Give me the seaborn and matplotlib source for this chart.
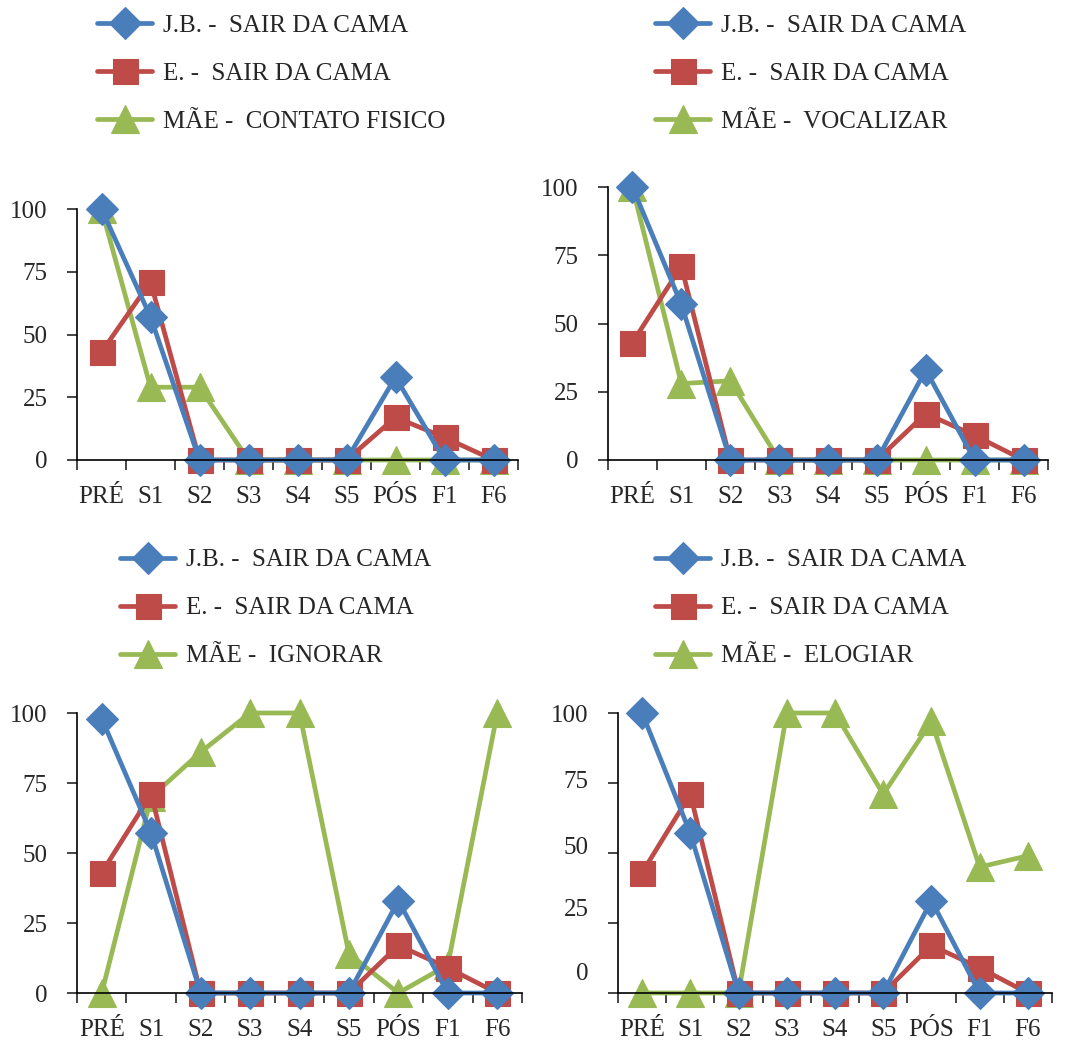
import seaborn as sns
import pandas as pd
import matplotlib.pyplot as plt
from matplotlib.transforms import ScaledTranslation

# dados
sessoes = ["PRÉ", "S1", "S2", "S3", "S4", "S5", "PÓS", "F1", "F6"]
jb_cama = [100, 57, 0, 0, 0, 0, 33, 0, 0]
jb_cama_p3 = [98, 57, 0, 0, 0, 0, 33, 0, 0]
e_cama = [43, 71, 0, 0, 0, 0, 17, 9, 0]
mae_contato = [100, 29, 29, 0, 0, 0, 0, 0, 0]
mae_vocalizar = [100, 28, 29, 0, 0, 0, 0, 0, 0]
mae_ignorar = [0, 70, 86, 100, 100, 14, 0, 10, 100]
mae_elogiar = [0, 0, 0, 100, 100, 71, 97, 45, 49]
yticks = [0, 25, 50, 75, 100]

nome_jb = "J.B. -  SAIR DA CAMA"
nome_e = "E. -  SAIR DA CAMA"
nomes_mae = ["MÃE -  CONTATO FISICO", "MÃE -  VOCALIZAR", "MÃE -  IGNORAR", "MÃE -  ELOGIAR"]

azul, vermelho, verde = "#4A7EBB", "#BE4B48", "#98B954"

sns.set_style("ticks")
plt.rcParams["font.family"] = ["Liberation Serif", "DejaVu Serif"]
plt.rcParams["font.size"] = 18

W, H = 1070, 1041
fig = plt.figure(figsize=(W / 100, H / 100), dpi=100)

# (esq, dir, topo, base) em pixels; legenda (x, y)
paineis = [
    ((77, 518, 209, 460), (97, 14), jb_cama, mae_contato, nomes_mae[0]),
    ((608, 1048, 187, 460), (655, 14), jb_cama, mae_vocalizar, nomes_mae[1]),
    ((77, 522, 713, 993), (120, 549), jb_cama_p3, mae_ignorar, nomes_mae[2]),
    ((618, 1052, 713, 993), (655, 549), jb_cama, mae_elogiar, nomes_mae[3]),
]

for i, (caixa, leg, jb, mae, nome_mae) in enumerate(paineis):
    l, r, t, b = caixa
    ax = fig.add_axes([l / W, 1 - b / H, (r - l) / W, (b - t) / H])
    comum = dict(linewidth=3.4, clip_on=False, markeredgewidth=0.8, ax=ax)
    sns.lineplot(x=sessoes, y=mae, color=verde, marker="^", markersize=20,
                 markeredgecolor=verde, label=nome_mae, **comum)
    sns.lineplot(x=sessoes, y=e_cama, color=vermelho, marker="s", markersize=18,
                 markeredgecolor=vermelho, label=nome_e, **comum)
    sns.lineplot(x=sessoes, y=jb, color=azul, marker="D", markersize=16,
                 markeredgecolor=azul, label=nome_jb, **comum)

    ax.set_xlim(-0.5, 8.5)
    ax.set_ylim(0, 100)
    ax.set_yticks(yticks)
    ax.set_xticks(range(len(sessoes)))
    ax.set_xticklabels(sessoes)
    ax.set_xticks([k - 0.5 for k in range(len(sessoes) + 1)], minor=True)
    ax.tick_params(axis="x", which="major", length=0, pad=19, labelsize=18)
    ax.tick_params(axis="x", which="minor", length=7, width=1.2, direction="out")
    ax.tick_params(axis="y", length=7, width=1.2, pad=14, labelsize=18)
    sns.despine(ax=ax)
    for s in ["left", "bottom"]:
        ax.spines[s].set_linewidth(1.2)
        ax.spines[s].set_color("black")

    if i == 3:
        # rótulos do eixo y deslocados como no original
        for lab, dy in zip(ax.get_yticklabels(), [21, 15, 8, 3, 0]):
            lab.set_transform(lab.get_transform() + ScaledTranslation(0, dy / 100, fig.dpi_scale_trans))

    hs, ls = ax.get_legend_handles_labels()
    ax.legend(hs[::-1], ls[::-1], loc="upper left",
              bbox_to_anchor=(leg[0] / W, 1 - leg[1] / H), bbox_transform=fig.transFigure,
              frameon=False, borderpad=0, borderaxespad=0, handlelength=2.2,
              handletextpad=0.45, labelspacing=1.02, fontsize=18, markerscale=1.0)

fig.savefig("out.png", dpi=100)
